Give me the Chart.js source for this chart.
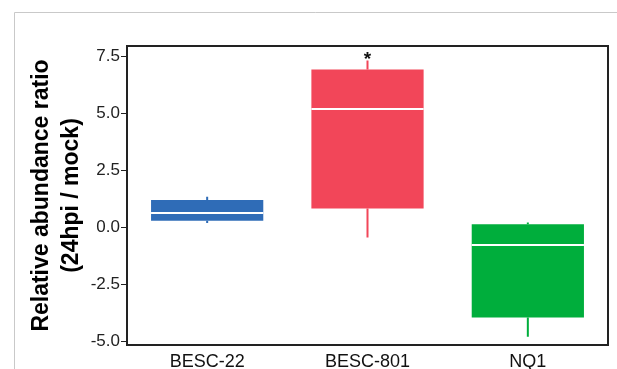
<!DOCTYPE html>
<html>
<head>
<meta charset="utf-8">
<script src="https://cdn.jsdelivr.net/npm/chart.js@4.4.1/dist/chart.umd.min.js"></script>
<style>
  html, body { margin: 0; padding: 0; background: #fff; }
  #wrap { width: 617px; height: 369px; position: relative; }
</style>
</head>
<body>
<div id="wrap"><canvas id="box-chart" width="617" height="369"></canvas></div>
<script>
const categories = ["BESC-22", "BESC-801", "NQ1"]
const q1Values = [0.29, 0.83, -3.94]
const q3Values = [1.2, 6.92, 0.14]
const medianValues = [0.64, 5.19, -0.79]
const minValues = [0.2, -0.44, -4.79]
const maxValues = [1.34, 7.32, 0.22]
const markers = ["", "*", ""]
const tickValues = [-5, -2.5, 0, 2.5, 5, 7.5]
const boxColors = ["#2f6cb7", "#f24659", "#00ae3c"]

const font = "'Liberation Sans', Arial, sans-serif"

// whiskers, medians, asterisk and frames
const boxExtras = {
  id: "boxExtras",
  beforeDraw(chart) {
    const c = chart.ctx
    c.save()
    c.strokeStyle = "#c9c9c9"
    c.lineWidth = 1
    c.beginPath()
    c.moveTo(14.5, chart.height)
    c.lineTo(14.5, 12.5)
    c.lineTo(chart.width, 12.5)
    c.stroke()
    c.restore()
  },
  afterDatasetsDraw(chart) {
    const c = chart.ctx
    const x = chart.scales.x
    const y = chart.scales.y
    const meta = chart.getDatasetMeta(0)
    c.save()
    categories.forEach((cat, i) => {
      const bar = meta.data[i]
      const cx = x.getPixelForValue(i)
      const half = bar.width / 2
      c.strokeStyle = boxColors[i]
      c.lineWidth = 2
      c.beginPath()
      c.moveTo(cx, y.getPixelForValue(q3Values[i]))
      c.lineTo(cx, y.getPixelForValue(maxValues[i]))
      c.moveTo(cx, y.getPixelForValue(q1Values[i]))
      c.lineTo(cx, y.getPixelForValue(minValues[i]))
      c.stroke()
      c.strokeStyle = "#ffffff"
      c.beginPath()
      const my = Math.round(y.getPixelForValue(medianValues[i]))
      c.moveTo(cx - half, my)
      c.lineTo(cx + half, my)
      c.stroke()
      if (markers[i]) {
        c.fillStyle = "#111"
        c.font = "bold 19px " + font
        c.textAlign = "center"
        c.textBaseline = "middle"
        c.fillText(markers[i], cx, y.getPixelForValue(maxValues[i]) - 1)
      }
    })
    const a = chart.chartArea
    c.strokeStyle = "#222"
    c.lineWidth = 2
    c.strokeRect(a.left, a.top, a.right - a.left, a.bottom - a.top)
    c.restore()
  }
}

const ctx = document.getElementById("box-chart").getContext("2d")
new Chart(ctx, {
  type: "bar",
  data: {
    labels: categories,
    datasets: [
      {
        data: categories.map((c, i) => [q1Values[i], q3Values[i]]),
        backgroundColor: boxColors,
        borderWidth: 0,
        barPercentage: 0.7,
        categoryPercentage: 1,
      },
    ],
  },
  options: {
    responsive: false,
    animation: false,
    layout: { padding: { top: 46, right: 9, left: 0, bottom: 0 } },
    plugins: { legend: { display: false }, tooltip: { enabled: false } },
    scales: {
      x: {
        grid: { display: false, drawTicks: false },
        border: { display: false },
        ticks: { color: "#111", font: { family: font, size: 18 }, padding: 6 },
        afterFit: (s) => { s.height = 24 },
      },
      y: {
        min: -5.15,
        max: 7.95,
        afterBuildTicks: (s) => { s.ticks = tickValues.map((v) => ({ value: v })) },
        grid: { drawOnChartArea: false, drawTicks: true, tickLength: 6, color: "#222", tickWidth: 1 },
        border: { display: false },
        ticks: {
          color: "#222",
          font: { family: font, size: 17 },
          padding: 1,
          callback: (v) => Number(v).toFixed(1),
        },
        title: {
          display: true,
          text: ["Relative abundance ratio", "(24hpi / mock)"],
          color: "#000",
          font: { family: font, size: 23, weight: "bold", lineHeight: 1.3 },
          padding: { top: 27, bottom: 0 },
        },
        afterFit: (s) => { s.width = 127 },
      },
    },
  },
  plugins: [boxExtras],
})
</script>
</body>
</html>
